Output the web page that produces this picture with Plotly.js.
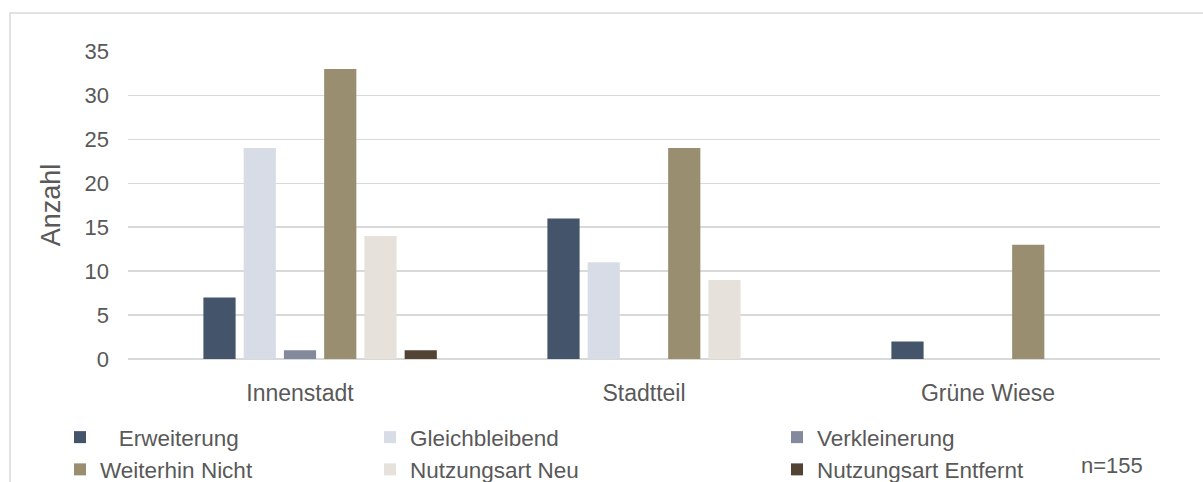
<!DOCTYPE html>
<html>
<head>
<meta charset="utf-8">
<script src="https://cdn.plot.ly/plotly-3.0.1.min.js"></script>
<style>
html,body{margin:0;padding:0;background:#fff;}
#chart{width:1203px;height:482px;}
</style>
</head>
<body>
<div id="chart"></div>
<script>
const categories = ["Innenstadt", "Stadtteil", "Grüne Wiese"];
const erweiterung = [7, 16, 2];
const gleichbleibend = [24, 11, 0];
const verkleinerung = [1, 0, 0];
const weiterhinNicht = [33, 24, 13];
const nutzungsartNeu = [14, 9, 0];
const nutzungsartEntfernt = [1, 0, 0];
const emptySeries = [null, null, null];
const seriesNames = ["\u00a0\u00a0\u00a0Erweiterung", "Gleichbleibend", "Verkleinerung", "Weiterhin Nicht", "Nutzungsart Neu", "Nutzungsart Entfernt"];
const yTickValues = [0, 5, 10, 15, 20, 25, 30, 35];
const sampleNote = "n=155";

const colors = ["#44546A", "#D7DCE6", "#848A9C", "#998E6F", "#E6E2DB", "#524334"];
const legendIds = ["legend", "legend2", "legend3", "legend", "legend2", "legend3"];
const seriesValues = [erweiterung, gleichbleibend, verkleinerung, weiterhinNicht, nutzungsartNeu, nutzungsartEntfernt];

const traces = [{
  type: "bar", x: categories, y: emptySeries, name: "", showlegend: false,
  marker: {color: "rgba(0,0,0,0)"}, hoverinfo: "skip"
}];
seriesValues.forEach((vals, i) => {
  traces.push({
    type: "bar", x: categories, y: vals, name: seriesNames[i],
    marker: {color: colors[i], line: {width: 0}},
    legend: legendIds[i]
  });
});

const txt = "#595959";
const fontFam = "'Liberation Sans', Arial, sans-serif";
const W = 1203, H = 482;
const L = 128, R = 1160, T = 51, B = 359;
const pw = R - L, ph = B - T;
const px = v => (v - L) / pw;
const py = v => (B - v) / ph;

const legendBase = {
  orientation: "v", xanchor: "left", yanchor: "top",
  font: {family: fontFam, size: 22.5, color: txt},
  bgcolor: "rgba(0,0,0,0)", borderwidth: 0, itemclick: false,
  tracegroupgap: 0, traceorder: "normal"
};

const layout = {
  width: W, height: H,
  margin: {l: L, r: W - R, t: T, b: H - B, pad: 0, autoexpand: false},
  paper_bgcolor: "#ffffff", plot_bgcolor: "#ffffff",
  font: {family: fontFam, color: txt},
  barmode: "group", bargap: 0.181, bargroupgap: 0.2,
  xaxis: {
    type: "category", showgrid: false, zeroline: false, showline: false,
    ticks: "", ticklabelstandoff: 18,
    tickfont: {family: fontFam, size: 23, color: txt}
  },
  yaxis: {
    range: [0, 35.05], tickvals: yTickValues, ticks: "",
    showgrid: true, gridcolor: "#D9D9D9", gridwidth: 1.5,
    zeroline: true, zerolinecolor: "#D9D9D9", zerolinewidth: 1.5,
    showline: false, ticklabelstandoff: 18,
    tickfont: {family: fontFam, size: 22, color: txt},
    title: {text: "Anzahl", standoff: 16, font: {family: fontFam, size: 27, color: txt}}
  },
  legend: Object.assign({}, legendBase, {x: px(60), y: py(416)}),
  legend2: Object.assign({}, legendBase, {x: px(370), y: py(416)}),
  legend3: Object.assign({}, legendBase, {x: px(777), y: py(416)}),
  annotations: [{
    text: sampleNote, xref: "paper", yref: "paper", x: px(1112), y: py(465),
    xanchor: "center", yanchor: "middle", showarrow: false,
    font: {family: fontFam, size: 22, color: txt}
  }],
  shapes: [{
    type: "rect", xref: "paper", yref: "paper",
    x0: px(10), x1: px(1260), y0: py(540), y1: py(13),
    line: {color: "#D9D9D9", width: 1.5}, fillcolor: "rgba(0,0,0,0)", layer: "below"
  }]
};

Plotly.newPlot("chart", traces, layout, {staticPlot: true, displayModeBar: false});
</script>
</body>
</html>
